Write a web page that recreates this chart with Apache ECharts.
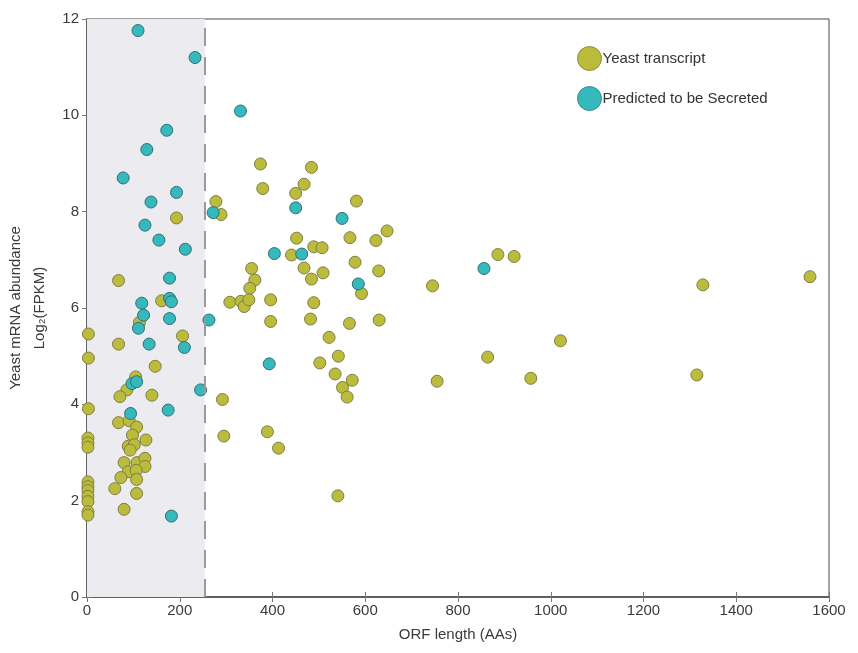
<!DOCTYPE html>
<html>
<head>
<meta charset="utf-8">
<script src="https://cdn.jsdelivr.net/npm/echarts@6/dist/echarts.min.js"></script>
<style>
html, body { margin: 0; padding: 0; background: #fff; }
#chart { width: 858px; height: 653px; }
</style>
</head>
<body>
<div id="chart"></div>
<script>
// ORF length (AAs), log2 FPKM
var yeastPts = [
	[193,7.87],[68,6.57],[161,6.15],[113,5.70],[3,5.46],[68,5.25],[206,5.42],[3,4.96],
	[147,4.79],[105,4.57],[86,4.30],[71,4.16],[140,4.19],[3,3.91],[68,3.62],[91,3.66],
	[107,3.53],[98,3.36],[2,3.30],[2,3.20],[2,3.11],[127,3.26],[89,3.13],[102,3.16],
	[93,3.05],[80,2.79],[108,2.79],[125,2.88],[125,2.71],[89,2.60],[106,2.63],[73,2.48],
	[107,2.44],[2,2.39],[2,2.29],[2,2.21],[2,2.09],[2,1.98],[60,2.25],[107,2.15],
	[2,1.77],[2,1.70],[80,1.82],
	[374,8.99],[379,8.48],[278,8.21],[289,7.94],[355,6.82],[362,6.58],[351,6.41],[308,6.12],
	[332,6.14],[339,6.03],[349,6.17],[396,6.17],[396,5.72],[292,4.10],[295,3.34],[389,3.43],
	[413,3.09],[484,8.92],[468,8.57],[450,8.38],[581,8.22],[647,7.60],[452,7.45],[567,7.46],
	[623,7.40],[489,7.27],[507,7.25],[441,7.10],[578,6.95],[468,6.83],[509,6.73],[629,6.77],
	[484,6.60],[745,6.46],[592,6.30],[489,6.11],[482,5.77],[566,5.68],[630,5.75],[522,5.39],
	[502,4.86],[542,5.00],[535,4.63],[572,4.50],[551,4.35],[561,4.15],[864,4.98],[755,4.48],
	[541,2.10],[886,7.11],[921,7.07],[1021,5.32],[957,4.54],[1328,6.48],[1559,6.65],[1315,4.61]
];
var secretedPts = [
	[110,11.76],[233,11.2],[331,10.09],[172,9.69],[129,9.29],[78,8.70],[193,8.40],[138,8.20],
	[272,7.98],[125,7.72],[155,7.41],[212,7.22],[404,7.13],[178,6.62],[178,6.20],[182,6.13],
	[118,6.10],[122,5.85],[111,5.58],[178,5.78],[263,5.75],[134,5.25],[210,5.18],[393,4.84],
	[97,4.43],[107,4.47],[245,4.30],[94,3.81],[175,3.88],[182,1.68],[450,8.08],[550,7.86],
	[463,7.12],[585,6.50],[856,6.82]
];
var cutoff = 254;
var xTicks = [0, 200, 400, 600, 800, 1000, 1200, 1400, 1600];
var yTicks = [0, 2, 4, 6, 8, 10, 12];

var axisCol = '#4a4a4a';
var txtCol = '#3a3a3a';
var font = 'Liberation Sans, Arial, sans-serif';

var chart = echarts.init(document.getElementById('chart'));
chart.setOption({
	animation: false,
	grid: {
		left: 87, right: 29, top: 19, bottom: 56,
		containLabel: false, outerBoundsMode: 'none',
		show: true, borderColor: axisCol, borderWidth: 1
	},
	legend: {
		orient: 'vertical',
		left: 572,
		top: 41,
		itemWidth: 24,
		itemHeight: 24,
		itemGap: 15,
		textStyle: { fontSize: 15, color: '#333', fontFamily: font, padding: [0, 0, 0, -4] },
		data: [
			{ name: 'Yeast transcript', icon: 'circle', itemStyle: { color: '#bcbc3c', borderColor: '#8a8a4a', borderWidth: 1 } },
			{ name: 'Predicted to be Secreted', icon: 'circle', itemStyle: { color: '#35b9bc', borderColor: '#3a8a8c', borderWidth: 1 } }
		]
	},
	xAxis: [{
		type: 'value', min: xTicks[0], max: xTicks[xTicks.length - 1], interval: 200,
		name: 'ORF length (AAs)', nameLocation: 'middle', nameGap: 30,
		nameTextStyle: { fontSize: 15, color: txtCol, fontFamily: font },
		axisLine: { show: true, lineStyle: { color: axisCol, width: 1.5 } },
		axisTick: { show: true, inside: true, length: 5, lineStyle: { color: '#777' } },
		axisLabel: { fontSize: 15, color: txtCol, fontFamily: font, margin: 6, formatter: function(v) { return String(v); } },
		splitLine: { show: false }
	}, {
		type: 'value', position: 'top', min: 0, max: 1600, interval: 200,
		axisLine: { show: false },
		axisTick: { show: true, inside: true, length: 5, lineStyle: { color: '#777' } },
		axisLabel: { show: false }, splitLine: { show: false }
	}],
	yAxis: [{
		type: 'value', min: yTicks[0], max: yTicks[yTicks.length - 1], interval: 2,
		name: 'Yeast mRNA abundance\nLog\u2082(FPKM)', nameLocation: 'middle', nameGap: 29, nameRotate: 90,
		nameTextStyle: { fontSize: 15, color: txtCol, fontFamily: font, lineHeight: 24 },
		axisLine: { show: true, lineStyle: { color: axisCol, width: 1.5 } },
		axisTick: { show: true, inside: true, length: 5, lineStyle: { color: '#777' } },
		axisLabel: { fontSize: 15, color: txtCol, fontFamily: font, margin: 8 },
		splitLine: { show: false }
	}, {
		type: 'value', position: 'right', min: 0, max: 12, interval: 2,
		axisLine: { show: false },
		axisTick: { show: true, inside: true, length: 5, lineStyle: { color: '#777' } },
		axisLabel: { show: false }, splitLine: { show: false }
	}],
	series: [{
		name: 'Yeast transcript',
		type: 'scatter',
		data: yeastPts,
		symbolSize: 12,
		itemStyle: { color: '#bcbc3c', borderColor: '#7d7d45', borderWidth: 1, opacity: 1 },
		markArea: {
			silent: true,
			itemStyle: { color: '#ececf0' },
			data: [[{ xAxis: 0 }, { xAxis: cutoff }]]
		},
		markLine: {
			silent: true,
			symbol: 'none',
			label: { show: false },
			lineStyle: { color: '#9a9a9a', width: 2, type: [18, 11] },
			data: [{ xAxis: cutoff }]
		}
	}, {
		name: 'Predicted to be Secreted',
		type: 'scatter',
		data: secretedPts,
		symbolSize: 12,
		itemStyle: { color: '#35b9bc', borderColor: '#2f6f73', borderWidth: 1, opacity: 1 }
	}]
});
</script>
</body>
</html>
